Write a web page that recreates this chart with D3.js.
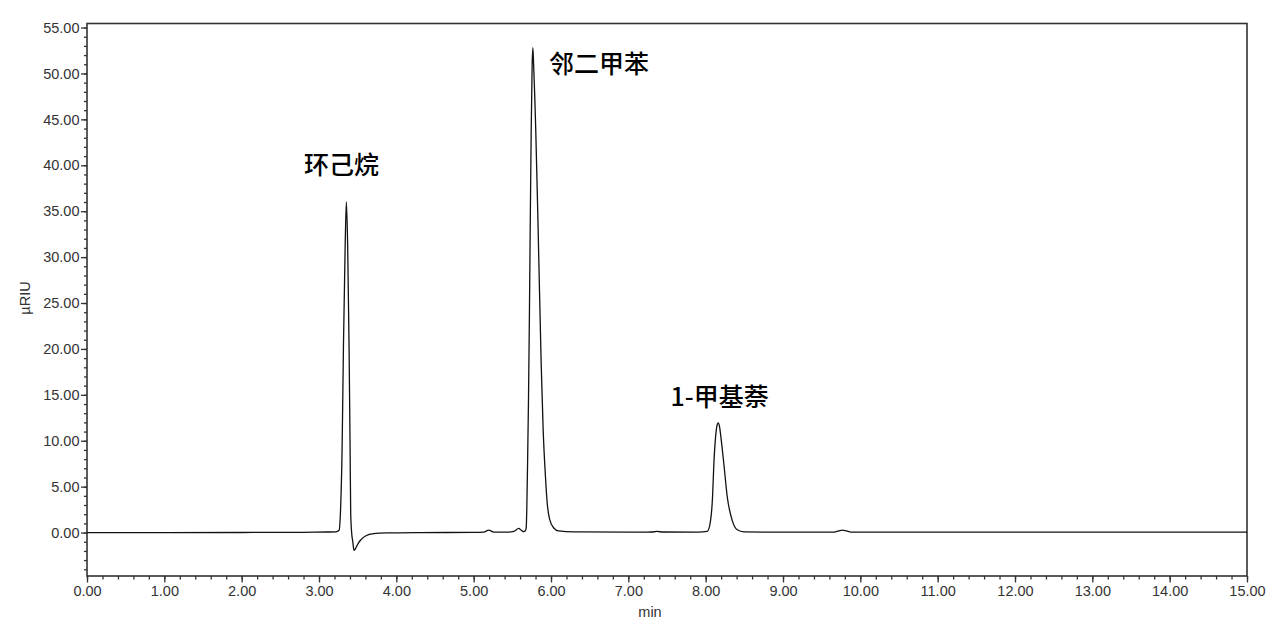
<!DOCTYPE html>
<html>
<head>
<meta charset="utf-8">
<script src="https://cdn.jsdelivr.net/npm/d3@7"></script>
<style>
	body { margin: 0; background: white; }
	svg { display: block; }
</style>
</head>
<body>
<div id="chromatogram"></div>
<script>
// retention time (min) and detector signal (µRIU)
const traceTime = [
	0.0, 1.0, 2.0, 2.8, 3.1, 3.22,
	3.26, 3.277, 3.299, 3.316, 3.338, 3.354, 3.371, 3.389, 3.402, 3.41,
	3.423, 3.437, 3.445, 3.452, 3.465, 3.493, 3.536, 3.601, 3.708, 3.88,
	4.3, 5.0, 5.13, 5.195, 5.26, 5.45, 5.52, 5.583, 5.62, 5.648, 5.672,
	5.68, 5.688, 5.698, 5.709, 5.72, 5.731, 5.744, 5.756, 5.765, 5.775,
	5.79, 5.803, 5.834, 5.873, 5.899, 5.929, 5.95, 5.981, 6.036, 6.097,
	6.3, 7.0, 7.3, 7.37, 7.45, 7.9,
	8.021, 8.063, 8.089, 8.106, 8.128, 8.145, 8.163, 8.18, 8.197, 8.235,
	8.279, 8.344, 8.409, 8.494, 9.0,
	9.66, 9.72, 9.767, 9.82, 9.88, 10.5, 12.0, 13.5, 15.0,
]
const traceSignal = [
	0.0, 0.0, 0.01, 0.03, 0.06, 0.08,
	0.25, 2.1, 9.3, 20.2, 31.1, 36.0, 31.1, 20.2, 9.3, 2.1,
	-0.1, -1.0, -1.6, -1.93, -1.85, -1.38, -0.84, -0.37, -0.11, -0.04,
	0.0, 0.02, 0.05, 0.27, 0.05, 0.04, 0.12, 0.45, 0.22, 0.1, 0.25,
	0.6, 3.0, 8.0, 14.5, 23.0, 33.0, 43.8, 50.8, 52.8, 51.0,
	47.5, 43.8, 32.9, 18.4, 11.1, 6.0, 3.3, 1.5, 0.5, 0.18,
	0.08, 0.05, 0.06, 0.12, 0.06, 0.05,
	0.12, 1.3, 3.9, 7.5, 10.4, 11.6, 11.95, 11.5, 10.4, 7.5,
	3.9, 1.3, 0.3, 0.08, 0.04,
	0.05, 0.18, 0.27, 0.18, 0.05, 0.04, 0.04, 0.05, 0.05,
]

// peak labels
const peakNames = ["环己烷", "邻二甲苯", "1-甲基萘"]
const peakLabelTime = [3.29, 6.62, 8.18]
const peakLabelSignal = [39.05, 50.05, 13.75]

// axis ticks
const xMajorTicks = d3.range(0, 15.001, 1)
const xMinorTicks = d3.range(0, 15.001, 0.2)
const yMajorTicks = d3.range(0, 55.001, 5)
const yMinorTicks = d3.range(-4, 55.001, 1)

const width = 1280
const height = 635
const margin = { top: 23.5, right: 33, bottom: 59, left: 87 }
const innerW = width - margin.left - margin.right
const innerH = height - margin.top - margin.bottom
const axisColor = "#333"

const svg = d3
	.select("#chromatogram")
	.append("svg")
	.attr("width", width)
	.attr("height", height)

const g = svg
	.append("g")
	.attr("transform", `translate(${margin.left},${margin.top})`)

const x = d3.scaleLinear().domain([0, 15]).range([0, innerW])
const y = d3.scaleLinear().domain([-4.73, 55.44]).range([innerH, 0])

const tickFont = "'Liberation Sans', Arial, sans-serif"

// minor ticks first, no labels
g.append("g")
	.attr("transform", `translate(0,${innerH})`)
	.call(d3.axisBottom(x).tickValues(xMinorTicks).tickSize(3.5).tickFormat(""))
	.call((a) => a.select(".domain").remove())
	.call((a) => a.selectAll("line").attr("stroke", axisColor).attr("stroke-width", 1.3))

g.append("g")
	.call(d3.axisLeft(y).tickValues(yMinorTicks).tickSize(3).tickFormat(""))
	.call((a) => a.select(".domain").remove())
	.call((a) => a.selectAll("line").attr("stroke", axisColor).attr("stroke-width", 1.3))

// major ticks with labels
g.append("g")
	.attr("transform", `translate(0,${innerH})`)
	.call(
		d3.axisBottom(x)
			.tickValues(xMajorTicks)
			.tickSize(6.5)
			.tickPadding(3)
			.tickFormat(d3.format(".2f"))
	)
	.call((a) => a.select(".domain").remove())
	.call((a) => a.selectAll("line").attr("stroke", axisColor).attr("stroke-width", 1.3))
	.call((a) =>
		a.selectAll("text")
			.attr("fill", axisColor)
			.style("font-family", tickFont)
			.style("font-size", "14.5px")
	)

g.append("g")
	.call(
		d3.axisLeft(y)
			.tickValues(yMajorTicks)
			.tickSize(6)
			.tickPadding(1.5)
			.tickFormat(d3.format(".2f"))
	)
	.call((a) => a.select(".domain").remove())
	.call((a) => a.selectAll("line").attr("stroke", axisColor).attr("stroke-width", 1.3))
	.call((a) =>
		a.selectAll("text")
			.attr("fill", axisColor)
			.style("font-family", tickFont)
			.style("font-size", "14.5px")
	)

// plot frame
g.append("rect")
	.attr("x", 0)
	.attr("y", 0)
	.attr("width", innerW)
	.attr("height", innerH)
	.attr("fill", "none")
	.attr("stroke", axisColor)
	.attr("stroke-width", 1.6)

// trace
const line = d3
	.line()
	.x((d, i) => x(traceTime[i]))
	.y((d) => y(d))
	.curve(d3.curveMonotoneX)

g.append("path")
	.datum(traceSignal)
	.attr("fill", "none")
	.attr("stroke", "#111")
	.attr("stroke-width", 1.3)
	.attr("stroke-linejoin", "round")
	.attr("d", line)

// peak labels
g.selectAll(".peak-label")
	.data(peakNames)
	.join("text")
	.attr("class", "peak-label")
	.attr("x", (d, i) => x(peakLabelTime[i]))
	.attr("y", (d, i) => y(peakLabelSignal[i]))
	.attr("text-anchor", "middle")
	.attr("fill", "#000")
	.style("font-family", "'Noto Sans CJK SC', sans-serif")
	.style("font-size", "25px")
	.style("font-weight", "500")
	.text((d) => d)

// axis titles
svg.append("text")
	.attr("x", 650)
	.attr("y", 616.5)
	.attr("text-anchor", "middle")
	.attr("fill", axisColor)
	.style("font-family", tickFont)
	.style("font-size", "14.5px")
	.text("min")

svg.append("text")
	.attr("transform", `translate(30,298) rotate(-90)`)
	.attr("text-anchor", "middle")
	.attr("fill", axisColor)
	.style("font-family", tickFont)
	.style("font-size", "14.5px")
	.text("µRIU")
</script>
</body>
</html>
